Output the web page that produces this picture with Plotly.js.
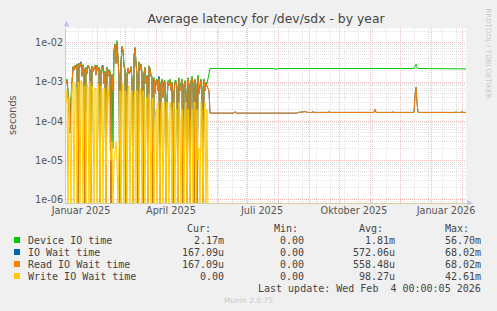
<!DOCTYPE html>
<html><head><meta charset="utf-8">
<script src="https://cdn.plot.ly/plotly-3.0.1.min.js"></script>
<style>html,body{margin:0;padding:0;background:#F0F0F0;}#chart{width:497px;height:311px;}</style>
</head><body><div id="chart"></div>
<script>
// ---- data (values in milliseconds; day = days since 2025-01-01) ----
const seriesNames = ['Device IO time', 'IO Wait time', 'Read IO Wait time', 'Write IO Wait time'];
const seriesColors = ['#00CC00', '#0066B3', '#FF8000', '#FFCC00'];

// daily values for the busy period, days 0..141
const deviceBusy = [1.0,1.2,0.6,0.3,0.1,0.4,1.6,2.5,2.1,2.7, 2.3,2.9,0,3.0,2.6,3.2,1.5,2.8,2.1,0,
 2.4,1.7,2.7,2.5,2.1,0,2.6,1.9,2.3,2.7, 1.6,2.7,2.0,2.4,0,2.0,2.6,2.3,1.0,1.9,
 0,2.4,1.5,2.1,1.9,0.03,1.6,0.02,6.5,9.5, 3.1,11.5,4.2,1.4,0,3.1,8.2,6.6,2.6,2.1,
 0,1.6,2.3,1.7,1.9,2.5,1.2,0,4.6,7.6, 3.1,1.6,0,3.3,2.1,2.9,1.7,0,1.7,2.4,
 1.0,1.5,0,2.6,2.3,1.5,1.4,0,1.3,0.6, 1.1,1.2,0.7,1.3,0,1.0,1.2,0.5,1.1,1.1,
 0,0.4,1.1,0.9,1.2,0.7,1.0,0,0.6,1.1, 1.1,0.8,0,1.3,0.7,1.0,1.2,0,0.9,1.1,
 0.6,0,1.3,0.9,0,1.1,1.4,1.0,0,1.2, 0.9,0,1.5,0.6,0.8,1.2,0.7,0,1.2,0.7, 1.0,0.9];
const ioWaitBusy = [0.9,1.1,0.5,0.2,0.05,0.3,1.5,2.4,2.0,2.6, 2.2,2.8,0,3.0,2.5,3.3,1.4,2.7,2.0,0,
 2.3,1.6,2.6,2.4,2.0,0,2.5,1.8,2.2,2.6, 1.5,2.6,1.9,2.3,0,1.9,2.5,2.7,0.9,1.8,
 0,2.3,1.4,2.0,1.8,0,1.5,0.6,6.0,9.0, 3.0,9.5,4.0,1.3,0,3.0,8.0,6.5,2.5,2.0,
 0,1.5,2.2,1.6,1.8,2.4,1.1,0,4.5,7.5, 3.0,1.5,0,3.2,2.0,2.8,1.6,0,1.6,2.3,
 0.9,1.4,0,2.5,2.2,1.4,1.3,0,1.2,0.5, 1.0,1.1,0.6,1.4,0,0.9,1.1,0.4,1.0,1.0,
 0,0.3,1.0,0.8,1.1,0.6,0.9,0,0.5,1.0, 1.0,0.7,0,1.2,0.6,0.9,1.1,0,0.8,1.0,
 0.5,0,1.2,0.8,0,1.0,1.3,0.9,0,1.1, 0.8,0,1.3,0.5,0.7,1.1,0.6,0,1.1,0.6, 0.9,0.8];
const readBusy = [0.9,1.1,0.5,0.2,0.05,0.3,1.5,2.4,2.0,2.6, 2.2,2.8,0,3.0,2.5,3.1,1.4,2.7,2.0,0,
 2.3,1.6,2.6,2.4,2.0,0,2.5,1.8,2.2,2.6, 1.5,2.6,1.9,2.3,0,1.9,2.5,2.2,0.9,1.8,
 0,2.3,1.4,2.0,1.8,0,1.5,0.6,6.0,9.0, 3.0,9.5,4.0,1.3,0,3.0,8.0,6.5,2.5,2.0,
 0,1.5,2.2,1.6,1.8,2.4,1.1,0,4.5,7.5, 3.0,1.5,0,3.2,2.0,2.8,1.6,0,1.6,2.3,
 0.9,1.4,0,2.5,2.2,1.4,1.3,0,1.2,0.5, 1.0,1.1,0.6,1.2,0,0.9,1.1,0.4,1.0,1.0,
 0,0.3,1.0,0.8,1.1,0.6,0.9,0,0.5,1.0, 1.0,0.7,0,1.2,0.6,0.9,1.1,0,0.8,1.0,
 0.5,0,1.2,0.8,0,1.0,1.3,0.9,0,1.1, 0.8,0,1.3,0.5,0.7,1.1,0.6,0,1.1,0.6, 0.9,0.8];
const writeBusy = [0.3,0.6,0,0.4,0.05,0,0.8,1.0,0,0.9, 0.7,0,1.0,0.8,0,1.1,0.9,0,0.6,0.8,
 0,0.9,0.7,0,1.0,0,0.8,0.6,0,0.7, 0.7,0,0.9,0.5,0,0.8,0.6,0,0.7,0.5,
 0,0.6,0.8,0.3,0.02,0.01,0.03,0,0.01,0.02, 0.03,0.01,0,0.02,0.6,0,0.5,0.9,0,0.6,
 0.5,0,0.6,0.8,0,0.5,0.6,0,0.4,0.6, 0,0.6,0.5,0,0.7,0.5,0,0.6,0.4,0,
 0.3,0.4,0,0.5,0.3,0,0.2,0.4,0,0.1, 0.2,0,0.3,0.05,0,0.2,0.3,0,0.3,0.2,
 0,0.3,0.1,0,0.3,0.2,0,0.2,0.3,0, 0.2,0.2,0,0.3,0.1,0,0.2,0.1,0,0.2,
 0.3,0,0.2,0.05,0,0.1,0.2,0,0.3,0.3, 0,0.2,0.01,0.02,0,0.3,0.2,0,0.1,0.3, 0,0.2];

// quiet period (sparse samples where the level changes)
const deviceTailDays = [144, 208, 209, 210, 211, 212, 348, 349, 350, 351, 352, 400];
const deviceTail     = [2.22, 2.22, 2.1, 2.15, 2.1, 2.22, 2.22, 2.5, 2.85, 2.4, 2.22, 2.17];
const readTailDays = [143, 144, 168, 169, 170, 231, 232, 240, 241, 246, 247, 248, 254, 255, 262, 263, 264,
  308, 309, 310, 326, 327, 328, 348, 349, 350, 351, 352, 389, 390, 391, 395, 396, 397, 400];
const readTail     = [0.6, 0.16, 0.16, 0.175, 0.16, 0.16, 0.167, 0.175, 0.167, 0.167, 0.175, 0.167, 0.172, 0.167, 0.167, 0.175, 0.167,
  0.167, 0.2, 0.167, 0.167, 0.172, 0.167, 0.167, 0.45, 0.74, 0.3, 0.167, 0.167, 0.172, 0.167, 0.167, 0.175, 0.167, 0.16709];
const ioWaitTailDays = readTailDays;
const ioWaitTail     = readTail;
const writeTailDays = [142, 400];
const writeTail     = [0, 0];

const xTickLabels = ['Januar 2025', 'April 2025', 'Juli 2025', 'Oktober 2025', 'Januar 2026'];
const xTickDates  = ['2025-01-16', '2025-04-16', '2025-07-16', '2025-10-16', '2026-01-16'];
const yTickVals   = [1e-6, 1e-5, 1e-4, 1e-3, 1e-2];
const yTickLabels = ['1e-06', '1e-05', '1e-04', '1e-03', '1e-02'];

const legendCur = ['2.17m', '167.09u', '167.09u', '0.00'];
const legendMin = ['0.00', '0.00', '0.00', '0.00'];
const legendAvg = ['1.81m', '572.06u', '558.48u', '98.27u'];
const legendMax = ['56.70m', '68.02m', '68.02m', '42.61m'];

// ---- build ----
function dayToDate(d){ return new Date(Date.UTC(2025,0,1+d)).toISOString().slice(0,10); }
const FLOOR = 4e-7; // rrdtool puts zero at the bottom of a log scale
function toSec(v){ return v > 0 ? v/1000 : FLOOR; }
function build(busy, tailDays, tail){
  const x = [], y = [];
  busy.forEach((v,i)=>{ x.push(dayToDate(i)); y.push(toSec(v)); });
  tailDays.forEach((d,i)=>{ x.push(dayToDate(d)); y.push(toSec(tail[i])); });
  return {x, y};
}
const all = [
  build(deviceBusy, deviceTailDays, deviceTail),
  build(ioWaitBusy, ioWaitTailDays, ioWaitTail),
  build(readBusy, readTailDays, readTail),
  build(writeBusy, writeTailDays, writeTail)
];
const traces = all.map((s,i)=>({type:'scatter', mode:'lines', x:s.x, y:s.y, name:seriesNames[i],
  line:{color:seriesColors[i], width:1}, hoverinfo:'skip', showlegend:false, cliponaxis:true}));
traces.push({type:'scatter', mode:'lines', x:[], y:[], xaxis:'x2', yaxis:'y', showlegend:false, hoverinfo:'skip'});

// grid positions
const monthStarts = [];
for (let m=0; m<14; m++) monthStarts.push(new Date(Date.UTC(2025,m,1)).toISOString().slice(0,10));
const biweekly = [];
for (let d=12; d<=400; d+=14) biweekly.push(dayToDate(d));
const yMinor = [];
for (let e=-7; e<=-2; e++) for (let k=2; k<=9; k++) yMinor.push(k*Math.pow(10,e));

const L=66, R=466, T=28, B=203;
const px = x => (x-L)/(R-L);
const py = y => (B-y)/(B-T);
const xRange = ['2025-01-01', '2026-02-05'];
const sansFont = 'DejaVu Sans, sans-serif';
const monoFont = 'DejaVu Sans Mono, monospace';

const ann = [];
function txt(x,y,text,opts){ ann.push(Object.assign({xref:'paper', yref:'paper', x:px(x), y:py(y), text:text, showarrow:false,
  xanchor:'left', yanchor:'middle', font:{family:monoFont, size:10, color:'#444'}}, opts||{})); }

const rowsY = [240, 252, 264, 276];
txt(213, 228, 'Cur:', {xanchor:'right'});
txt(299.5, 228, 'Min:', {xanchor:'right'});
txt(385, 228, 'Avg:', {xanchor:'right'});
txt(470.5, 228, 'Max:', {xanchor:'right'});
const shapes = [];
seriesNames.forEach((n,i)=>{
  const y = rowsY[i];
  txt(26, y, n);
  txt(226, y, legendCur[i], {xanchor:'right'});
  txt(305.5, y, legendMin[i], {xanchor:'right'});
  txt(397, y, legendAvg[i], {xanchor:'right'});
  txt(482.5, y, legendMax[i], {xanchor:'right'});
  shapes.push({type:'rect', xref:'paper', yref:'paper', x0:px(14), x1:px(20), y0:py(y+3), y1:py(y-3),
    fillcolor:seriesColors[i], line:{width:0}});
});
txt(482.5, 288, 'Last update: Wed Feb \u00A04 00:00:05 2026', {xanchor:'right'});
txt(248, 300, 'Munin 2.0.75', {xanchor:'center', font:{family:sansFont, size:7.5, color:'#C8C8C8'}});
txt(487.5, 53, 'RRDTOOL / TOBI OETIKER', {xanchor:'center', textangle:90, font:{family:sansFont, size:7, color:'#C8C8C8'}});
txt(12, 115, 'seconds', {xanchor:'center', textangle:-90, font:{family:sansFont, size:9.7, color:'#555'}});
// axis arrows
shapes.push({type:'path', xref:'paper', yref:'paper', fillcolor:'#C4C4F0', line:{width:0},
  path:`M ${px(63.5)} ${py(26.5)} L ${px(69.5)} ${py(26.5)} L ${px(66.5)} ${py(20.5)} Z`});
shapes.push({type:'path', xref:'paper', yref:'paper', fillcolor:'#C4C4F0', line:{width:0},
  path:`M ${px(467)} ${py(200)} L ${px(467)} ${py(206)} L ${px(473)} ${py(203)} Z`});

const layout = {
  width:497, height:311,
  paper_bgcolor:'#F0F0F0', plot_bgcolor:'#FFFFFF',
  margin:{l:L, r:497-R, t:T, b:311-B, pad:0},
  showlegend:false,
  title:{text:'Average latency for /dev/sdx - by year', x:0.5, xref:'paper', xanchor:'center', y:1-19/311, yanchor:'middle',
    font:{family:sansFont, size:12.4, color:'#444'}},
  xaxis:{type:'date', range:xRange, tickmode:'array', tickvals:monthStarts, showticklabels:false, ticks:'',
    showgrid:true, gridcolor:'#F2BCBC', griddash:'1px,1px', gridwidth:1, layer:'below traces',
    minor:{tickmode:'array', tickvals:biweekly, showgrid:true, gridcolor:'#E2E2E2', griddash:'1px,1px', ticks:''},
    showline:true, linecolor:'#D6CC9C', linewidth:1, zeroline:false, fixedrange:true},
  xaxis2:{type:'date', range:xRange, overlaying:'x', anchor:'y', side:'bottom', tickmode:'array', tickvals:xTickDates, ticktext:xTickLabels,
    showgrid:false, ticks:'', ticklen:0, zeroline:false, showline:false,
    tickfont:{family:sansFont, size:9.7, color:'#555'}},
  yaxis:{type:'log', range:[Math.log10(8.05e-7), Math.log10(0.0241)], tickmode:'array', tickvals:yTickVals, ticktext:yTickLabels,
    showgrid:true, gridcolor:'#F2BCBC', griddash:'1px,1px', gridwidth:1, ticks:'', ticklen:0,
    minor:{tickmode:'array', tickvals:yMinor, showgrid:true, gridcolor:'#E2E2E2', griddash:'1px,1px', ticks:''},
    tickfont:{family:sansFont, size:9.7, color:'#555'},
    showline:true, linecolor:'#C8C8E8', linewidth:1, zeroline:false},
  annotations:ann, shapes:shapes
};
Plotly.newPlot('chart', traces, layout, {staticPlot:true, displayModeBar:false});
</script></body></html>
